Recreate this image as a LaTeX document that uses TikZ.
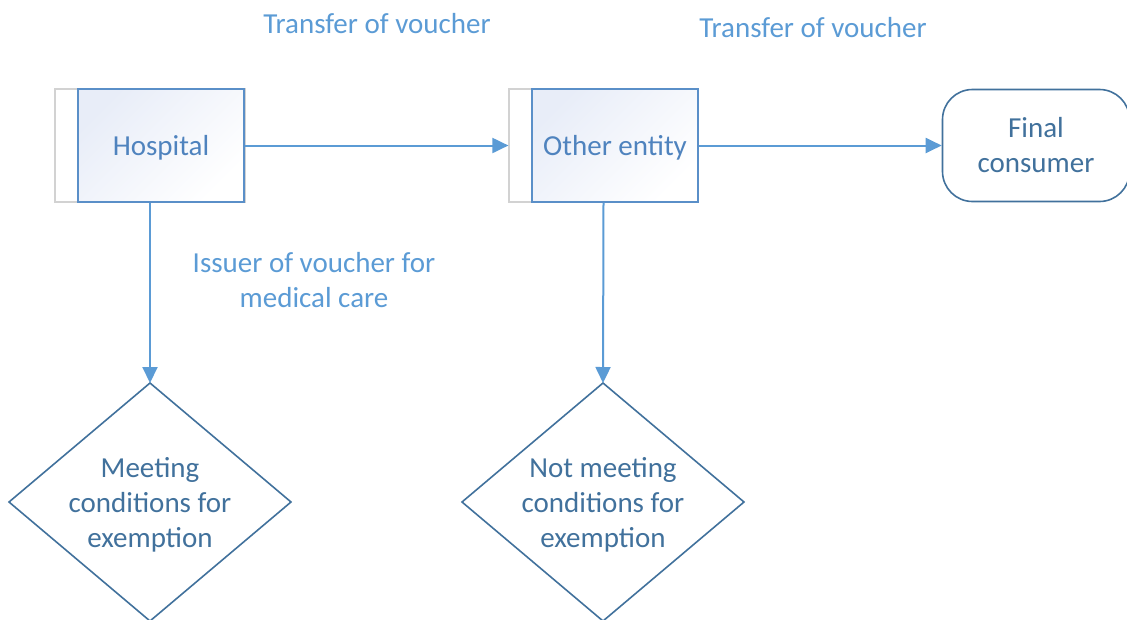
\documentclass[tikz,border=0pt]{standalone}
\usepackage{fontspec}
\setmainfont{Carlito}
\usetikzlibrary{arrows.meta}
\definecolor{arrowblue}{HTML}{5B9BD5}
\definecolor{boxedge}{HTML}{5A8FC8}
\definecolor{boxtext}{HTML}{4F83BE}
\definecolor{darkblue}{HTML}{41719C}
\definecolor{tint}{HTML}{E8EDF8}
\definecolor{tabedge}{HTML}{D2D2D2}
\newcommand{\lowered}[1]{\raisebox{-2.5pt}[\height][\depth]{#1}}
\begin{document}
\begin{tikzpicture}[x=1pt,y=-1pt,
  every node/.style={font=\fontsize{29}{35}\selectfont},
  tab/.style={draw=tabedge, line width=1.2pt, fill=white, minimum height=113pt, inner sep=0pt},
  procbox/.style={draw=boxedge, line width=1.6pt, top color=tint, bottom color=white, shading angle=45,
    minimum width=166pt, minimum height=113pt, inner sep=0pt, text=boxtext},
  terminal/.style={draw=darkblue, line width=1.6pt, fill=white, rounded corners=30pt,
    minimum width=187pt, minimum height=112pt, align=center, text=darkblue},
  decision/.style={draw=darkblue, line width=1.6pt},
  decisiontext/.style={align=center, text=darkblue},
  caption/.style={align=center, text=arrowblue},
  flow/.style={draw=arrowblue, line width=2pt, -{Triangle[length=16pt,width=15pt]}}]
\useasboundingbox (0,0) rectangle (1127,619);

% process boxes with their side tabs
\node[tab, minimum width=190pt] (hosp) at (150,145.5) {};
\node[procbox] (hospbox) at (161,145.5) {\lowered{Hospital}};
\node[tab, minimum width=189pt] (other) at (603.5,145.5) {};
\node[procbox] (otherbox) at (615,145.5) {\lowered{Other entity}};

% terminal
\node[terminal] (final) at (1036,145.5) {Final\\consumer};

% decisions
\coordinate (meettop) at (150,383);
\coordinate (nottop) at (603,383);
\draw[decision] (meettop) -- (291,502) -- (150,621) -- (9,502) -- cycle;
\draw[decision] (nottop) -- (744,502) -- (603,621) -- (462,502) -- cycle;
\node[decisiontext] (meet) at (150,505) {Meeting\\conditions for\\exemption};
\node[decisiontext] (notmeet) at (603,505) {Not meeting\\conditions for\\exemption};

% captions
\node[caption] (cap1) at (377,24) {Transfer of voucher};
\node[caption] (cap2) at (813,28) {Transfer of voucher};
\node[caption] (cap3) at (314,280.5) {Issuer of voucher for\\medical care};

% connectors
\draw[flow] (hospbox.east) -- (other.west);
\draw[flow] (otherbox.east) -- (final.west);
\draw[flow] (hosp.south) -- (meettop);
\draw[flow] (other.south) -- (nottop);
\end{tikzpicture}
\end{document}
